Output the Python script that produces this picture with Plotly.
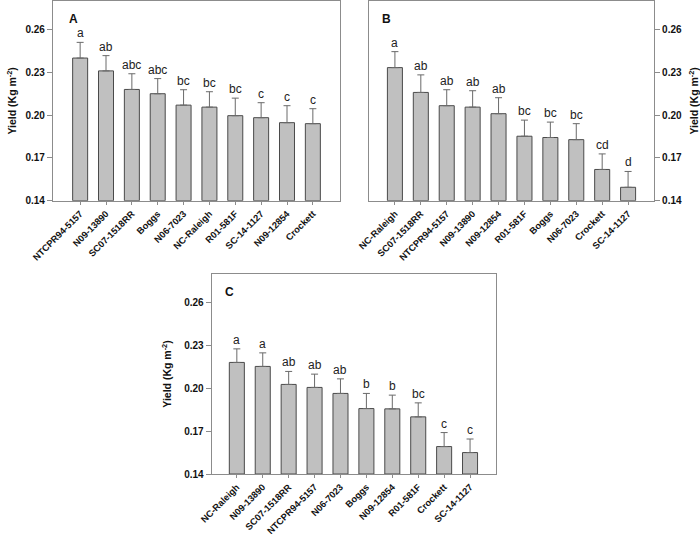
import plotly.graph_objects as go

# ---- data ----
cats_A = ["NTCPR94-5157", "N09-13890", "SC07-1518RR", "Boggs", "N06-7023",
          "NC-Raleigh", "R01-581F", "SC-14-1127", "N09-12854", "Crockett"]
vals_A = [0.240, 0.231, 0.218, 0.215, 0.207, 0.2056, 0.1996, 0.1982, 0.1947, 0.194]
errs_A = [0.011, 0.0107, 0.011, 0.0106, 0.0108, 0.0108, 0.0123, 0.0105, 0.0119, 0.0105]
lets_A = ["a", "ab", "abc", "abc", "bc", "bc", "bc", "c", "c", "c"]

cats_B = ["NC-Raleigh", "SC07-1518RR", "NTCPR94-5157", "N09-13890", "N09-12854",
          "R01-581F", "Boggs", "N06-7023", "Crockett", "SC-14-1127"]
vals_B = [0.2333, 0.2159, 0.2066, 0.2056, 0.201, 0.1852, 0.1843, 0.1828, 0.1619, 0.1494]
errs_B = [0.0112, 0.0123, 0.0112, 0.0115, 0.0112, 0.0113, 0.0108, 0.0112, 0.0109, 0.0111]
lets_B = ["a", "ab", "ab", "ab", "ab", "bc", "bc", "bc", "cd", "d"]

cats_C = ["NC-Raleigh", "N09-13890", "SC07-1518RR", "NTCPR94-5157", "N06-7023",
          "Boggs", "N09-12854", "R01-581F", "Crockett", "SC-14-1127"]
vals_C = [0.2181, 0.2153, 0.2027, 0.2006, 0.1964, 0.1858, 0.1856, 0.180, 0.1592, 0.155]
errs_C = [0.0095, 0.0095, 0.0091, 0.0093, 0.0102, 0.0106, 0.0096, 0.0098, 0.0098, 0.0095]
lets_C = ["a", "a", "ab", "ab", "ab", "b", "b", "bc", "c", "c"]

yticks = [0.14, 0.17, 0.20, 0.23, 0.26]
yticklabels = ["0.14", "0.17", "0.20", "0.23", "0.26"]

FONT = "Arial, Liberation Sans, sans-serif"
AXC = "#8c8c8c"

fig = go.Figure()

panels = [
    ("A", cats_A, vals_A, errs_A, lets_A, "x", "y"),
    ("B", cats_B, vals_B, errs_B, lets_B, "x2", "y2"),
    ("C", cats_C, vals_C, errs_C, lets_C, "x3", "y3"),
]

for name, cats, vals, errs, lets, xa, ya in panels:
    fig.add_trace(go.Bar(
        x=cats, y=[v - 0.14 for v in vals], base=0.14,
        xaxis=xa, yaxis=ya, width=0.58,
        marker=dict(color="#c0c0c0", line=dict(color="#4a4a4a", width=1)),
        error_y=dict(type="data", symmetric=False, array=errs,
                     arrayminus=[0] * len(errs), color="#6a6a6a",
                     thickness=1, width=3.5),
        showlegend=False, hoverinfo="skip"))
    for c, v, e, l in zip(cats, vals, errs, lets):
        fig.add_annotation(x=c, y=v + e, xref=xa, yref=ya, text=l,
                           showarrow=False, yanchor="bottom", yshift=0,
                           font=dict(family=FONT, size=12, color="#222222"))

W, H = 700, 534
def dx(a, b):
    return [a / W, b / W]
def dy(top, bottom):
    return [1 - bottom / H, 1 - top / H]

def ytitle(standoff):
    return dict(text="Yield (Kg m<sup>-2</sup>)", standoff=standoff,
                font=dict(family=FONT, size=10.5, color="#111111", weight="bold"))

common_x = dict(type="category", showline=True, mirror=True, linecolor=AXC,
                linewidth=1.2, ticks="outside", ticklen=3, tickcolor=AXC,
                tickangle=-45, automargin=False,
                tickfont=dict(family=FONT, size=9.3, color="#111111", weight="bold"),
                showgrid=False, zeroline=False)
common_y = dict(range=[0.14, 0.28], tickvals=yticks, ticktext=yticklabels,
                showline=True, mirror=True, linecolor=AXC, linewidth=1.2,
                ticks="outside", ticklen=5, tickcolor=AXC, automargin=False,
                tickfont=dict(family=FONT, size=10, color="#111111", weight="bold"),
                showgrid=False, zeroline=False)

fig.update_layout(
    width=W, height=H, margin=dict(l=0, r=0, t=0, b=0, autoexpand=False),
    paper_bgcolor="white", plot_bgcolor="white",
    font=dict(family=FONT),
    xaxis=dict(common_x, domain=dx(53, 340), anchor="y", range=[-1.05, 10.05]),
    yaxis=dict(common_y, domain=dy(1, 200.7), anchor="x", title=ytitle(6)),
    xaxis2=dict(common_x, domain=dx(369, 654), anchor="y2", range=[-1.0, 10.0]),
    yaxis2=dict(common_y, domain=dy(1, 200.7), anchor="x2", side="right",
                title=ytitle(13)),
    xaxis3=dict(common_x, domain=dx(211.7, 495.7), anchor="y3", range=[-0.97, 9.99]),
    yaxis3=dict(common_y, domain=dy(274, 474), anchor="x3", title=ytitle(10)),
)

for lab, xa, ya, xp in [("A", "x domain", "y domain", 0.05),
                        ("B", "x2 domain", "y2 domain", 0.04),
                        ("C", "x3 domain", "y3 domain", 0.04)]:
    fig.add_annotation(text="<b>" + lab + "</b>", x=xp, y=0.91, xref=xa, yref=ya,
                       showarrow=False, xanchor="left", yanchor="middle",
                       font=dict(family=FONT, size=12, color="#111111"))

fig.write_html("out.html", config={"displayModeBar": False},
               post_script="document.body.style.margin='0';document.body.style.overflow='hidden';")
